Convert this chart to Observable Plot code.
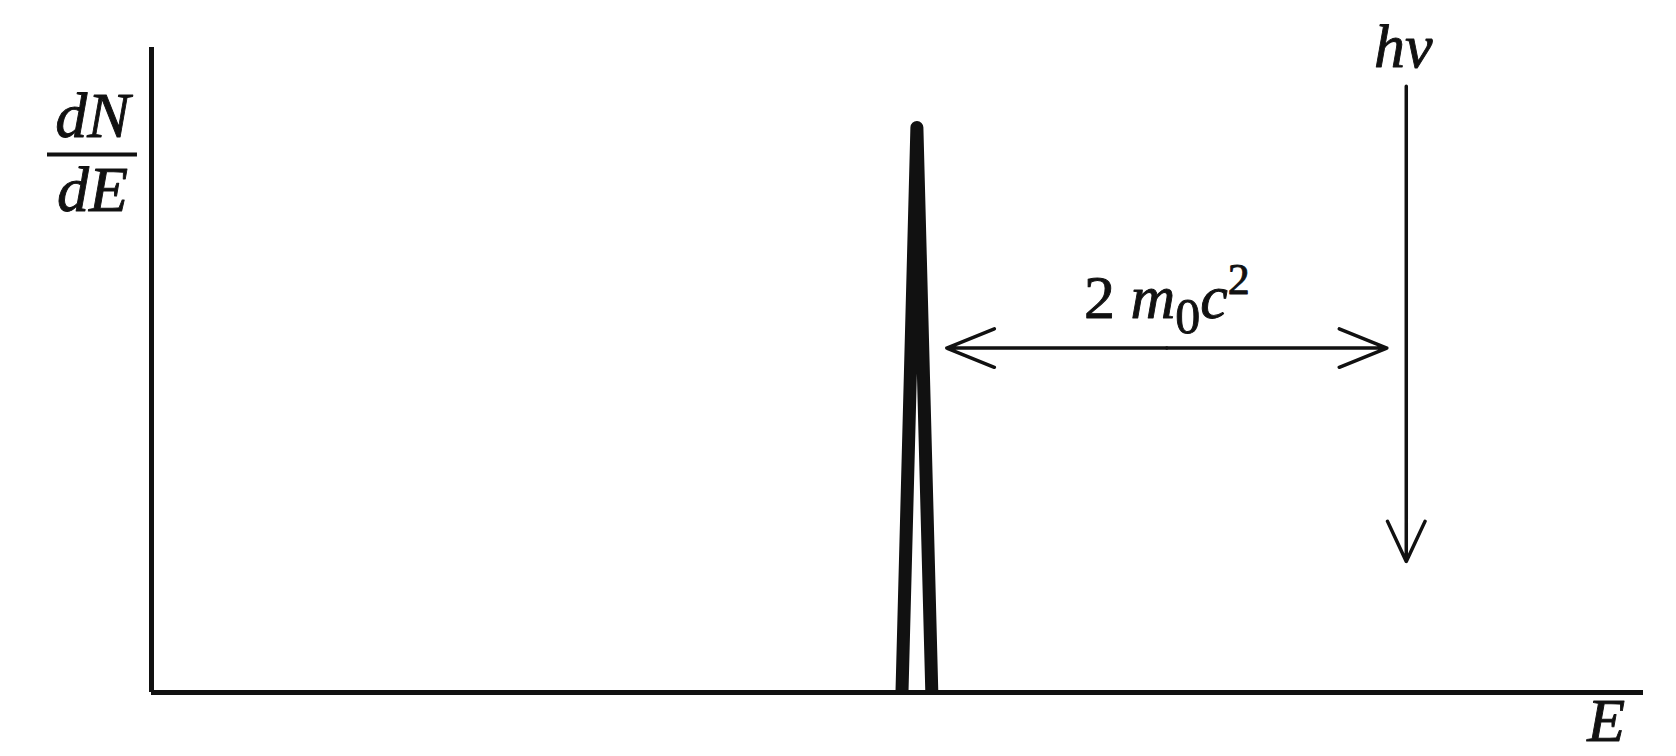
<!DOCTYPE html>
<html><head><meta charset="utf-8">
<style>body{margin:0;background:#fff} svg{display:block}</style>
<script src="https://cdn.jsdelivr.net/npm/d3@7"></script>
<script src="https://cdn.jsdelivr.net/npm/@observablehq/plot@0.6"></script>
</head><body><div id="chart"></div><script>
// ---- data (energy in arbitrary units, dN/dE normalised) ----
const peakE = [50.3, 51.3, 52.3];        // double-escape peak: base left, apex, base right
const peakN = [0, 0.876, 0];
const gammaE = 84.1;                     // incident photon energy hν
const gammaN = [0.94, 0.203];            // arrow from top to tip
const spanE = [53.3, 82.8];              // 2 m0c² double arrow ends
const spanN = 0.534;
const labelTexts = ["dN", "dE", "hν", "2 m0c2", "E"];

const ink = "#111";
const peakRows = peakE.map((e, i) => ({E: e, N: peakN[i]}));
const mid = (spanE[0] + spanE[1]) / 2;
const font = "'Liberation Serif', 'Times New Roman', serif";
const txt = {fill: ink, stroke: ink, strokeWidth: 0.9};

const plot = Plot.plot({
  width: 1676, height: 756,
  marginLeft: 151, marginRight: 33, marginTop: 47, marginBottom: 64,
  x: {domain: [0, 100], axis: null},
  y: {domain: [0, 1], axis: null},
  style: {background: "#fff", fontFamily: font, overflow: "visible"},
  marks: [
    Plot.ruleX([0], {stroke: ink, strokeWidth: 5}),
    Plot.ruleY([0], {stroke: ink, strokeWidth: 5}),
    Plot.line(peakRows, {x: "E", y: "N", stroke: ink, strokeWidth: 13, strokeLinejoin: "round", strokeLinecap: "butt"}),
    Plot.arrow([{x1: mid, x2: spanE[0]}, {x1: mid, x2: spanE[1]}], {
      x1: "x1", x2: "x2", y1: () => spanN, y2: () => spanN,
      stroke: ink, strokeWidth: 3.5, headLength: 22, headAngle: 44, bend: 0
    }),
    Plot.arrow([{}], {
      x1: () => gammaE, x2: () => gammaE, y1: () => gammaN[0], y2: () => gammaN[1],
      stroke: ink, strokeWidth: 3.5, headLength: 19, headAngle: 50, bend: 0
    }),
    Plot.ruleY([0.834], {x1: () => -6.97, x2: () => -0.94, stroke: ink, strokeWidth: 4}),
    Plot.text([labelTexts[0]], {x: () => -3.95, y: () => 0.893, text: d => d, fontSize: 64, fontStyle: "italic", ...txt}),
    Plot.text([labelTexts[1]], {x: () => -3.95, y: () => 0.779, text: d => d, fontSize: 64, fontStyle: "italic", ...txt}),
    Plot.text([labelTexts[2]], {x: () => gammaE - 0.2, y: () => 1.0, text: d => d, fontSize: 62, fontStyle: "italic", ...txt}),
    Plot.text([labelTexts[3]], {x: () => mid, y: () => 0.611, text: d => d, fontSize: 62, ...txt}),
    Plot.text([labelTexts[4]], {x: () => 97.5, y: () => -0.045, text: d => d, fontSize: 62, fontStyle: "italic", ...txt})
  ]
});
document.getElementById("chart").appendChild(plot);

// typeset 2 m₀c² with real sub/superscripts
d3.select(plot).selectAll("text").filter(function () { return this.textContent === "2 m0c2"; })
  .each(function () {
    const t = d3.select(this);
    t.text(null);
    t.append("tspan").text("2 ");
    t.append("tspan").attr("font-style", "italic").text("m");
    t.append("tspan").attr("dy", 15).attr("font-size", 50).text("0");
    t.append("tspan").attr("dy", -15).attr("font-style", "italic").text("c");
    t.append("tspan").attr("dy", -24).attr("font-size", 44).text("2");
  });
</script></body></html>
